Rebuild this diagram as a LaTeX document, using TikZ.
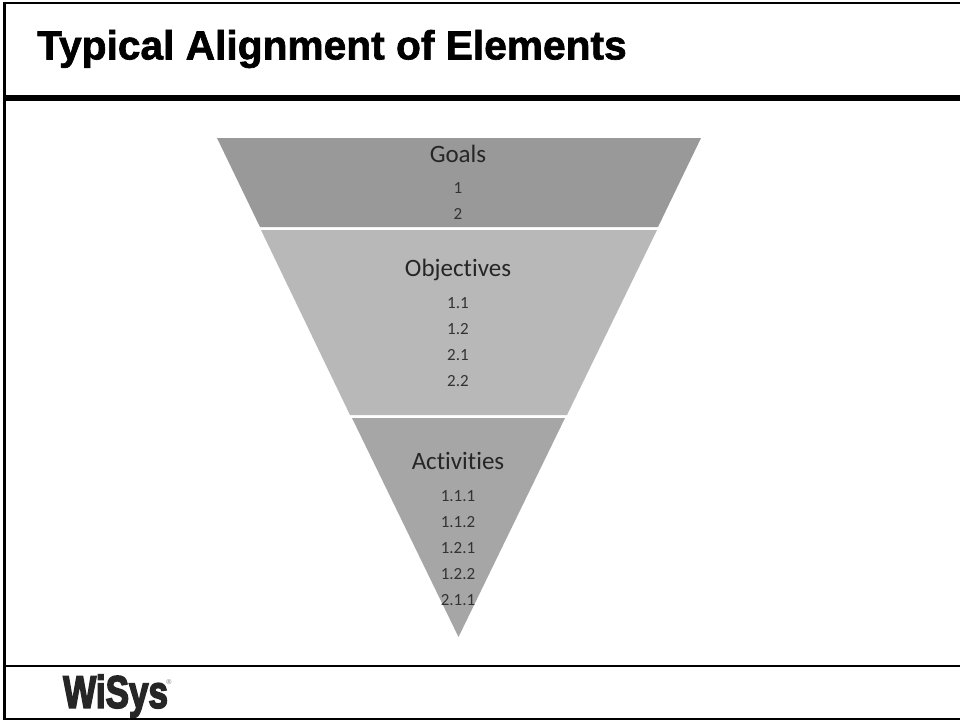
\documentclass[tikz,border=0pt]{standalone}
\usepackage{fontspec}
\setmainfont{Carlito}[Ligatures=NoCommon]
\newfontface\titlefont{Liberation Sans Bold}[FakeBold=1.6]
\newfontface\logofont{Liberation Sans Bold}[FakeBold=4]
\newfontfamily\regfont{Liberation Sans}
\usepackage{tikz}
\tikzset{
	head/.style={font=\fontsize{25}{30}\selectfont,text=black!85},
	item/.style={font=\fontsize{17}{20}\selectfont,text=black!80},
}
\begin{document}
\begin{tikzpicture}[x=1pt,y=-1pt] % one unit is one pixel of the reference
	\useasboundingbox (0,0) rectangle (960,721);
	\fill[white] (0,0) rectangle (960,721);
	\fill[black!40] (217,138) -- (701,138) -- (658,227) -- (260,227) -- cycle;
	\fill[black!28] (261,230) -- (657,230) -- (567,415) -- (350,415) -- cycle;
	\fill[black!35] (352,418) -- (565,418) -- (458.5,637) -- cycle;
	\draw[line width=2.5pt] (960,3) -- (4.5,3) -- (4.5,719) -- (960,719);
	\draw[line width=6pt] (4.5,98) -- (960,98);
	\draw[line width=1.2pt] (4.5,666) -- (960,666);
	\node[anchor=west,inner sep=0pt,font=\titlefont\fontsize{40.7}{44}\selectfont] (title) at (37,49) {Typical Alignment of Elements};
	\node[head] (G) at (458,154) {Goals};
	\node[item] (G1) at (458,188) {1};\node[item] (G2) at (458,214) {2};
	\node[head] (O) at (458,270) {Objectives};
	\node[item] (O1) at (458,303) {1.1};\node[item] (O2) at (458,329) {1.2};
	\node[item] (O3) at (458,355) {2.1};\node[item] (O4) at (458,381) {2.2};
	\node[head] (A) at (458,461) {Activities};
	\node[item] (A1) at (458,496) {1.1.1};\node[item] (A2) at (458,522) {1.1.2};
	\node[item] (A3) at (458,548) {1.2.1};\node[item] (A4) at (458,574) {1.2.2};
	\node[item] (A5) at (458,600) {2.1.1};
	\node[anchor=west,inner sep=0pt,text=black!85,yscale=1.3,font=\logofont\fontsize{35}{38}\selectfont] (logo) at (63,696) {WiSys};
	\node[inner sep=0pt,text=black!55,font=\regfont\fontsize{7}{8}\selectfont] (reg) at (169,682) {®};
\end{tikzpicture}
\end{document}
